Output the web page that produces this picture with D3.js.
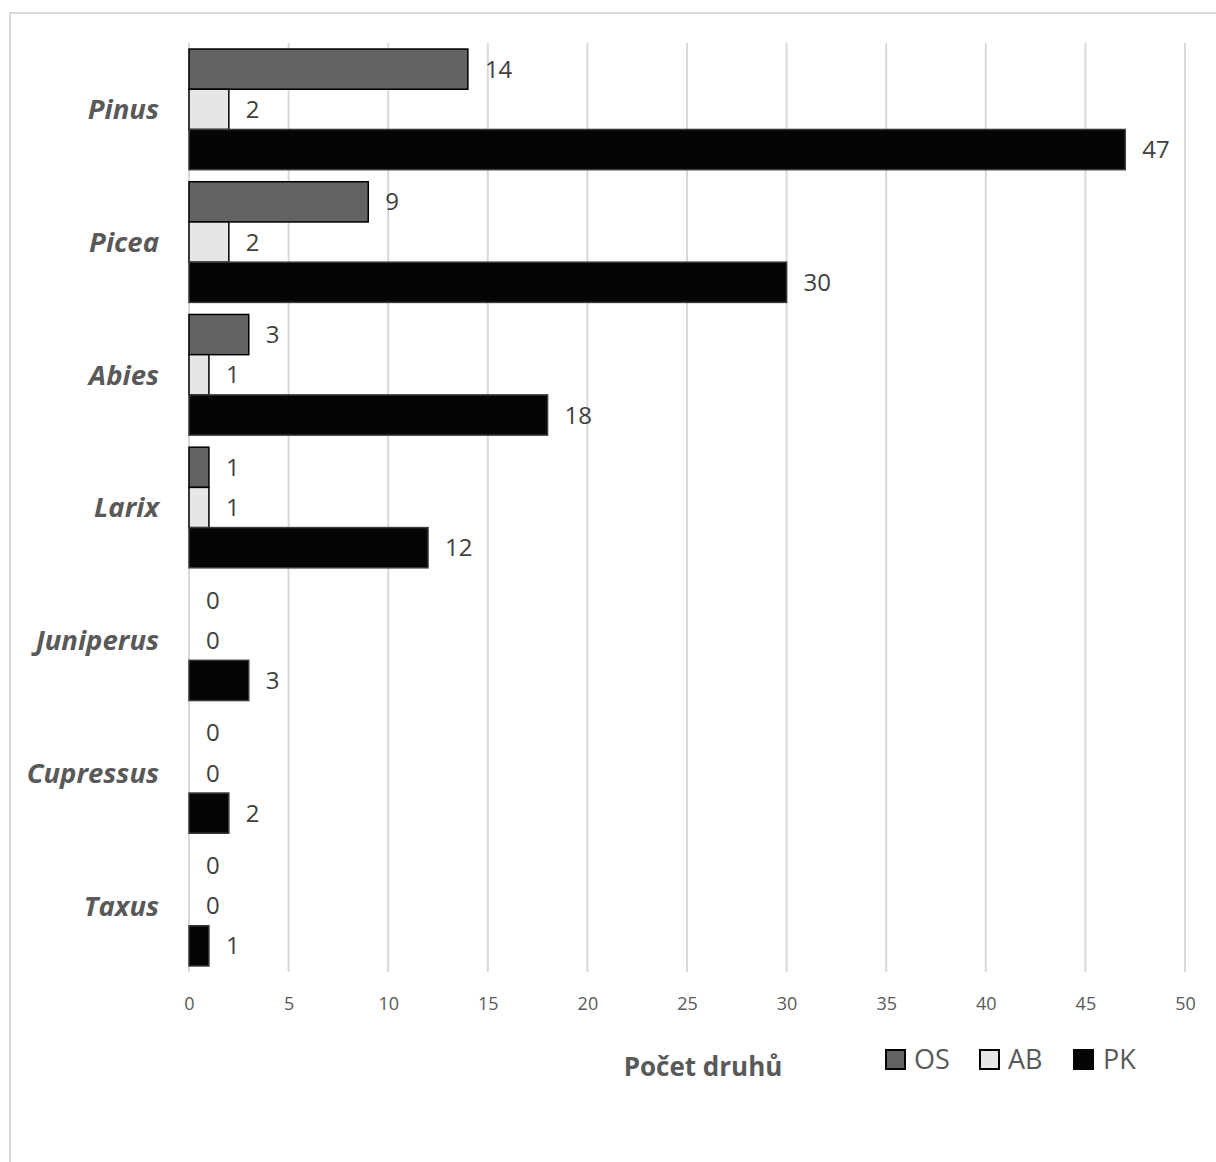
<!DOCTYPE html>
<html>
<head>
<meta charset="utf-8">
<script src="https://cdn.jsdelivr.net/npm/d3@7"></script>
<style>
  html, body { margin: 0; padding: 0; background: #fff; }
  svg { display: block; }
</style>
</head>
<body>
<svg id="chart" width="1216" height="1162"></svg>
<script>
// Genera of conifers and number of species per source
const genera = ["Pinus", "Picea", "Abies", "Larix", "Juniperus", "Cupressus", "Taxus"];
const seriesNames = ["OS", "AB", "PK"];
const valuesOS = [14, 9, 3, 1, 0, 0, 0];
const valuesAB = [2, 2, 1, 1, 0, 0, 0];
const valuesPK = [47, 30, 18, 12, 3, 2, 1];
const xTicks = [0, 5, 10, 15, 20, 25, 30, 35, 40, 45, 50];
const axisTitle = "Počet druhů";

const seriesValues = { OS: valuesOS, AB: valuesAB, PK: valuesPK };
const fills = { OS: "#636363", AB: "#e6e6e6", PK: "#050505" };
const strokes = { OS: "#000", AB: "#000", PK: "#3a3a3a" };

const svg = d3.select("#chart");
const font = "'Open Sans', 'DejaVu Sans', sans-serif";

// outer chart frame
svg.append("rect")
  .attr("x", 10).attr("y", 13)
  .attr("width", 1216).attr("height", 1162)
  .attr("fill", "#fff").attr("stroke", "#d9d9d9").attr("stroke-width", 2);

const plot = { left: 189, right: 1185, top: 43, bottom: 972 };

const x = d3.scaleLinear().domain([0, 50]).range([plot.left, plot.right]);
const y = d3.scaleBand().domain(genera).range([plot.top, plot.bottom]).padding(0);
const ySub = d3.scaleBand().domain(seriesNames).range([0, y.bandwidth()])
  .paddingInner(0).paddingOuter(0.15);

// vertical gridlines
svg.append("g").selectAll("line").data(xTicks).join("line")
  .attr("x1", d => x(d)).attr("x2", d => x(d))
  .attr("y1", plot.top).attr("y2", plot.bottom)
  .attr("stroke", "#d9d9d9").attr("stroke-width", 2);

// tick labels
const xAxis = d3.axisBottom(x).tickValues(xTicks).tickSize(0).tickPadding(0);
const gx = svg.append("g").attr("transform", `translate(0,${plot.bottom})`).call(xAxis);
gx.select(".domain").remove();
gx.selectAll("text")
  .attr("y", 38).attr("dy", null)
  .attr("font-family", font).attr("font-size", 18).attr("fill", "#595959");

// bars
const rows = [];
genera.forEach((g, i) => {
  seriesNames.forEach(s => rows.push({ genus: g, series: s, value: seriesValues[s][i] }));
});

const barG = svg.append("g");
barG.selectAll("rect").data(rows.filter(d => d.value > 0)).join("rect")
  .attr("x", x(0))
  .attr("y", d => y(d.genus) + ySub(d.series))
  .attr("width", d => x(d.value) - x(0))
  .attr("height", ySub.bandwidth())
  .attr("fill", d => fills[d.series])
  .attr("stroke", d => strokes[d.series])
  .attr("stroke-width", 1.5);

// value labels
svg.append("g").selectAll("text").data(rows).join("text")
  .attr("x", d => x(d.value) + 17)
  .attr("y", d => y(d.genus) + ySub(d.series) + ySub.bandwidth() / 2)
  .attr("dy", "0.36em")
  .attr("font-family", font).attr("font-size", 24).attr("fill", "#404040")
  .text(d => d.value);

// category labels
const yAxis = d3.axisLeft(y).tickSize(0).tickPadding(0);
const gy = svg.append("g").attr("transform", `translate(159,0)`).call(yAxis);
gy.select(".domain").remove();
gy.selectAll("text")
  .attr("x", 0).attr("dy", "0.36em")
  .attr("font-family", font).attr("font-size", 27.5)
  .attr("font-weight", "bold").attr("font-style", "italic")
  .attr("fill", "#595959");

// axis title
svg.append("text")
  .attr("x", 703).attr("y", 1076)
  .attr("text-anchor", "middle")
  .attr("font-family", font).attr("font-size", 26).attr("font-weight", "bold")
  .attr("fill", "#595959")
  .text(axisTitle);

// legend
const legendX = [885, 979, 1073];
const legend = svg.append("g").selectAll("g").data(seriesNames).join("g")
  .attr("transform", (d, i) => `translate(${legendX[i]},1049)`);
legend.append("rect")
  .attr("x", 1).attr("y", 1).attr("width", 19).attr("height", 19)
  .attr("fill", d => fills[d])
  .attr("stroke", d => d === "PK" ? "#050505" : "#000").attr("stroke-width", 2);
legend.append("text")
  .attr("x", d => d === "PK" ? 30 : 29).attr("y", 10.5).attr("dy", "0.36em")
  .attr("font-family", font).attr("font-size", 27).attr("fill", "#595959")
  .text(d => d);
</script>
</body>
</html>
